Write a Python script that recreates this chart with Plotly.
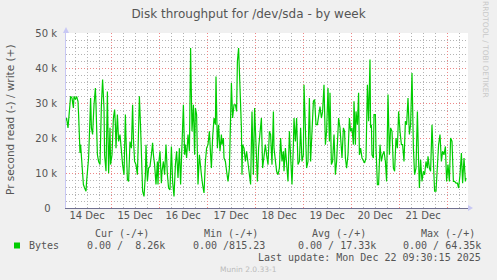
import plotly.graph_objects as go

# ---- data (hours since 14 Dec 00:00, write throughput in kB/s) ----
hours = [1.5, 1.8, 2.5, 3.2, 3.8, 4.5, 5.2, 5.5, 6.2, 6.8, 7.5, 7.8, 8.2, 8.5, 8.8, 9.5, 10.2, 10.8, 11.5, 11.8,
         12.5, 12.8, 13.5, 13.8, 14.2, 14.8, 15.5, 16.2, 16.5, 17.2, 17.8, 18.5, 19.2, 19.8, 20.5, 20.8, 21.5, 21.8,
         22.2, 22.8, 23.5, 23.8, 24.5, 25.2, 25.8, 26.2, 26.5, 27.2, 27.8, 28.5, 29.2, 29.8, 30.5, 31.2, 31.5, 32.2,
         32.8, 33.5, 34.2, 34.8,
         35.2, 35.8, 36.5, 37.2, 37.8, 38.2, 38.8, 39.2, 39.8, 40.5, 41.2, 41.5, 42.2, 42.8, 43.5, 44.2, 44.8, 45.2,
         45.8, 46.5, 46.8, 47.2, 47.5, 47.8, 48.5, 49.2, 49.5, 50.2, 50.8, 51.5, 52.2, 52.8, 53.5, 54.2, 54.8, 55.5,
         56.2, 56.8, 57.5, 58.2, 58.8, 59.5, 60.2, 60.8, 61.2, 61.8, 62.5, 63.2, 63.8, 64.5, 65.2, 65.8, 66.2, 66.8,
         67.5, 68.2, 68.8,
         69.2, 69.8, 70.5, 71.2, 71.8, 72.5, 73.2, 73.8, 74.2, 74.8, 75.5, 76.2, 76.5, 77.2, 77.8, 78.5, 79.2, 79.5,
         80.2, 80.5, 81.2, 81.8, 82.5, 83.2, 83.5, 84.2, 84.8, 85.5, 86.2, 86.8, 87.2, 87.8, 88.5, 89.2, 89.5, 89.8,
         90.5, 91.2, 91.8, 92.5, 93.2, 93.8, 94.5, 95.2, 95.8, 96.5, 97.2, 97.8, 98.5, 99.2, 99.8, 100.5, 101.2,
         101.8, 102.5, 103.2,
         103.8, 104.5, 105.2, 105.5, 106.2, 106.8, 107.5, 108.2, 108.8, 109.5, 110.2, 110.5, 111.2, 111.8, 112.5,
         113.2, 113.8, 114.5, 115.2, 115.5, 116.2, 116.8, 117.5, 118.2, 118.8, 119.5, 120.2, 120.5, 121.2, 121.8,
         122.5, 123.2, 123.8, 124.5, 125.2, 125.8, 126.5, 127.2, 127.8, 128.5, 129.2, 129.8, 130.5, 131.2, 131.8,
         132.5, 133.2, 133.5, 134.2, 134.8, 135.5, 136.2, 136.8,
         137.2, 137.8, 138.5, 138.8, 139.5, 140.2, 140.8, 141.2, 141.8, 142.5, 143.2, 143.8, 144.5, 145.2, 145.5,
         146.2, 146.5, 147.2, 147.8, 148.2, 148.8, 149.5, 150.2, 150.8, 151.5, 152.2, 152.8, 153.5, 153.8, 154.2,
         154.5, 155.2, 155.5, 156.2, 156.5, 157.2, 157.8, 158.5, 159.2, 159.8, 160.5, 161.2, 161.8, 162.5, 163.2,
         163.8, 164.5, 165.2, 165.8, 166.5, 167.2, 167.8, 168.5, 169.2, 169.8, 170.5, 171.2,
         171.8, 172.5, 173.2, 173.8, 174.5, 175.2, 175.8, 176.5, 177.2, 177.8, 178.2, 178.8, 179.5, 180.2, 180.8,
         181.5, 182.2, 182.5, 183.2, 183.8, 184.5, 185.2, 185.8, 186.5, 187.2, 187.8, 188.5, 189.2, 189.8, 190.5,
         191.2, 191.8, 192.5, 193.2, 193.8, 194.5, 195.2, 195.8, 196.5, 197.2, 197.8, 198.5, 199.2, 199.8, 200.5,
         201.2, 201.5]

kbytes = [25.0, 25.7, 22.9, 27.6, 31.9, 31.4, 28.6, 31.9, 31.0, 31.9, 30.5, 26.7, 19.0, 15.7, 18.1, 11.4, 6.7, 5.7, 4.8, 7.6,
          13.3, 14.3, 25.7, 31.4, 22.9, 21.0, 29.5, 34.3, 29.5, 15.2, 13.3, 12.4, 29.5, 36.7, 28.6, 15.2, 10.5, 29.5,
          33.3, 9.9, 22.9, 12.4, 15.2, 25.7, 28.1, 23.8, 17.1, 26.7, 19.0, 21.0, 15.2, 12.4, 9.5, 26.7, 20.0, 8.1,
          7.6, 19.0, 17.1, 29.5,
          20.0, 13.3, 12.4, 9.5, 22.9, 31.9, 22.9, 11.4, 4.8, 3.3, 9.5, 18.1, 7.6, 11.4, 11.9, 15.2, 18.6, 15.2,
          12.4, 6.7, 11.4, 13.3, 6.7, 12.4, 16.2, 7.1, 10.5, 13.3, 9.5, 18.1, 9.5, 5.7, 5.2, 17.6, 7.6, 3.3,
          12.4, 16.2, 8.6, 17.1, 6.7, 16.2, 29.5, 15.2, 18.1, 14.3, 21.0, 16.2, 45.7, 21.9, 29.5, 15.2, 28.6, 26.7,
          6.7, 15.2, 10.5,
          9.5, 6.7, 4.3, 13.3, 17.1, 18.1, 21.9, 15.2, 11.4, 20.0, 25.7, 23.8, 37.6, 17.1, 23.8, 16.2, 21.0, 18.1,
          20.0, 14.3, 13.3, 10.5, 7.6, 11.4, 22.9, 35.7, 25.7, 29.5, 29.5, 27.6, 41.9, 45.7, 34.3, 22.9, 9.5, 18.1,
          17.1, 13.3, 16.2, 12.4, 9.5, 6.7, 27.6, 9.5, 28.6, 18.1, 7.6, 17.1, 21.0, 25.7, 11.4, 14.3, 18.1,
          15.2, 12.4, 21.9,
          21.0, 12.4, 27.6, 17.1, 14.3, 10.5, 9.5, 11.4, 20.0, 13.3, 16.2, 10.5, 17.1, 12.4, 7.6,
          21.9, 15.2, 6.7, 18.1, 25.7, 19.0, 25.7, 12.4, 13.3, 22.9, 13.3, 15.2, 35.2, 22.9, 11.4,
          13.3, 31.4, 13.3, 21.9, 30.5, 31.0, 23.8, 23.8, 26.7, 29.0, 25.7, 27.6, 35.2, 18.1, 21.9,
          34.3, 19.0, 32.9, 12.4, 13.3, 21.0, 9.5, 13.3,
          19.0, 25.7, 22.9, 20.0, 14.3, 22.9, 21.9, 14.3, 11.4, 15.2, 25.7, 21.9, 22.9, 18.1, 30.5,
          18.1, 27.6, 23.8, 32.9, 15.2, 17.1, 14.3, 13.3, 12.9, 14.3, 35.2, 24.8, 42.4, 22.9, 23.8,
          15.2, 14.3, 26.7, 26.7, 17.1, 6.7, 6.7, 18.1, 13.3, 15.2, 16.2, 13.3, 7.6, 32.4, 15.2,
          22.9, 21.9, 11.4, 10.5, 20.0, 17.1, 27.6, 21.9, 18.1, 18.1, 13.3, 24.8,
          23.8, 31.4, 21.0, 23.8, 38.6, 17.1, 9.5, 11.4, 27.6, 13.3, 5.7, 13.8, 7.6, 10.5, 9.5,
          13.3, 11.4, 14.8, 11.4, 10.5, 23.8, 13.3, 4.8, 4.8, 13.3, 18.1, 21.0, 13.3, 16.2, 15.2,
          17.6, 7.6, 12.4, 7.6, 20.0, 19.0, 7.6, 7.6, 7.1, 7.1, 5.7, 9.5, 15.7, 7.1, 14.3,
          7.6, 8.6]

day_labels = ["14 Dec", "15 Dec", "16 Dec", "17 Dec", "18 Dec", "19 Dec", "20 Dec", "21 Dec"]
day_noons = [12, 36, 60, 84, 108, 132, 156, 180]
midnights = [24, 48, 72, 96, 120, 144, 168, 192]
y_ticks = [0, 10000, 20000, 30000, 40000, 50000]
y_tick_text = ["0\u00a0\u00a0", "10 k", "20 k", "30 k", "40 k", "50 k"]

title = "Disk throughput for /dev/sda - by week"
y_title = "Pr second read (-) / write (+)"
legend_name = "Bytes"
headers = ["Cur (-/+)", "Min (-/+)", "Avg (-/+)", "Max (-/+)"]
stats = ["0.00 /  8.26k", "0.00 /815.23", "0.00 / 17.33k", "0.00 / 64.35k"]
last_update = "Last update: Mon Dec 22 09:30:15 2025"
footer = "Munin 2.0.33-1"
side_text = "RRDTOOL / TOBI OETIKER"

X_RANGE = [1.5, 202.5]
W, H = 497, 280
L, R, T, B = 66, 29, 33, 72
PW, PH = W - L - R, H - T - B


def px(x):
    return (x - L) / PW


def py(y):
    return (H - B - y) / PH


GREEN = "#00CC00"
TXT = "#555555"
MONO = "DejaVu Sans Mono"
SANS = "DejaVu Sans"
MINOR = "#B4B4B4"
MAJOR = "#EE8888"
DASH = "1px,2px"

fig = go.Figure()
# main axis carries the grid (red at midnights, grey every 6 h)
fig.add_trace(go.Scatter(x=hours, y=[v * 1000 for v in kbytes], mode="lines",
                         line=dict(color=GREEN, width=1.2), hoverinfo="skip",
                         xaxis="x", yaxis="y", showlegend=False))
# overlay axis carries the day labels at noon
fig.add_trace(go.Scatter(x=hours, y=[v * 1000 for v in kbytes], mode="lines",
                         line=dict(color="rgba(0,0,0,0)", width=0), hoverinfo="skip",
                         xaxis="x2", yaxis="y", showlegend=False))

fig.update_layout(
    width=W, height=H,
    margin=dict(l=L, r=R, t=T, b=B, pad=0),
    paper_bgcolor="#F0F0F0", plot_bgcolor="#FFFFFF",
    font=dict(family=SANS, size=10, color=TXT),
    title=dict(text=title, x=0.5, xref="container", xanchor="center",
               y=1 - 13.5 / H, yref="container", yanchor="middle",
               font=dict(family=SANS, size=12, color=TXT)),
    xaxis=dict(range=X_RANGE, tickmode="array", tickvals=midnights, showticklabels=False,
               showgrid=True, gridcolor=MAJOR, griddash=DASH, gridwidth=1,
               minor=dict(dtick=6, tick0=0, showgrid=True, gridcolor=MINOR, griddash=DASH, gridwidth=1),
               zeroline=False, showline=True, linecolor="#707090", linewidth=1, ticks=""),
    xaxis2=dict(range=X_RANGE, overlaying="x", side="bottom", tickmode="array", tickvals=day_noons,
                ticktext=day_labels, showgrid=False, zeroline=False, showline=False, ticks="",
                tickfont=dict(family=SANS, size=10, color=TXT)),
    yaxis=dict(range=[0, 50000], tickmode="array", tickvals=y_ticks, ticktext=y_tick_text,
               showgrid=True, gridcolor=MAJOR, griddash=DASH, gridwidth=1,
               minor=dict(dtick=2000, tick0=0, showgrid=True, gridcolor=MINOR, griddash=DASH, gridwidth=1),
               zeroline=False, showline=True, linecolor="#C8C8F4", linewidth=1,
               ticks="", ticklabelstandoff=6, tickfont=dict(family=SANS, size=10, color=TXT)),
)

# axis arrows
fig.add_shape(type="path", xref="paper", yref="paper", layer="above",
              path=f"M {px(468)} {py(205)} L {px(473)} {py(208)} L {px(468)} {py(211)} Z",
              fillcolor="#C8C8F4", line=dict(width=0))
fig.add_shape(type="path", xref="paper", yref="paper", layer="above",
              path=f"M {px(63)} {py(33)} L {px(66)} {py(27)} L {px(69)} {py(33)} Z",
              fillcolor="#C8C8F4", line=dict(width=0))

ann = []
ann.append(dict(text=y_title, x=px(10), y=py(120), textangle=-90, font=dict(family=SANS, size=10.5, color=TXT)))
ann.append(dict(text=side_text, x=px(486), y=py(50), textangle=90, font=dict(family=SANS, size=7.5, color="#C8C8C8")))
hdr_right = [151, 260, 368, 477]
val_right = [167, 267, 378, 483]
for h, xr in zip(headers, hdr_right):
    ann.append(dict(text=h, x=px(xr), y=py(233.5), xanchor="right", font=dict(family=MONO, size=10, color=TXT)))
for s, xr in zip(stats, val_right):
    ann.append(dict(text=s.replace(" ", "\u00a0"), x=px(xr), y=py(245.5), xanchor="right",
                    font=dict(family=MONO, size=10, color=TXT)))
ann.append(dict(text=legend_name, x=px(26.5), y=py(245.5), xanchor="left", font=dict(family=MONO, size=10, color=TXT)))
ann.append(dict(text=last_update, x=px(483), y=py(257.5), xanchor="right", font=dict(family=MONO, size=10, color=TXT)))
ann.append(dict(text=footer, x=px(248.5), y=py(269.5), xanchor="center", font=dict(family=SANS, size=7.5, color="#BBBBBB")))
for a in ann:
    a.setdefault("xanchor", "center")
    a.update(xref="paper", yref="paper", yanchor="middle", showarrow=False)
fig.update_layout(annotations=ann)

fig.add_shape(type="rect", xref="paper", yref="paper",
              x0=px(14), x1=px(20), y0=py(248.5), y1=py(242.5),
              fillcolor=GREEN, line=dict(width=0))

fig.write_html("out.html")
